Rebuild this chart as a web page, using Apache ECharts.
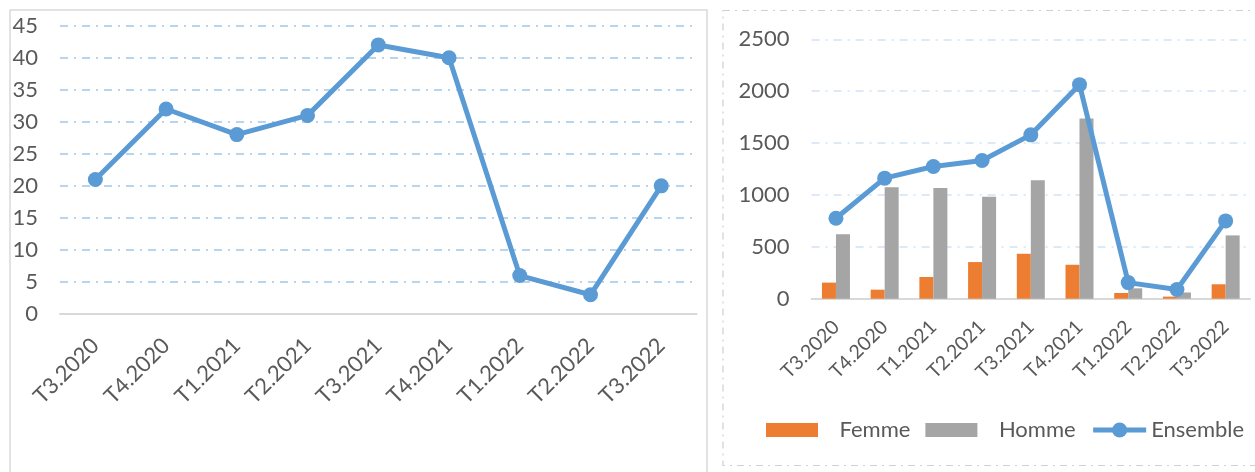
<!DOCTYPE html>
<html>
<head>
<meta charset="utf-8">
<script src="https://cdn.jsdelivr.net/npm/echarts@6/dist/echarts.min.js"></script>
<style>
  html, body { margin: 0; padding: 0; background: #fff; }
  #chart { width: 1255px; height: 472px; }
</style>
</head>
<body>
<div id="chart"></div>
<script>
// trimestres
var categories = ['T3.2020', 'T4.2020', 'T1.2021', 'T2.2021', 'T3.2021', 'T4.2021', 'T1.2022', 'T2.2022', 'T3.2022'];
// graphique de gauche
var leftValues = [21, 32, 28, 31, 42, 40, 6, 3, 20];
// graphique de droite
var femme = [155, 87, 209, 353, 433, 327, 55, 20, 139];
var homme = [620, 1075, 1066, 982, 1142, 1736, 100, 60, 610];
var ensemble = [775, 1162, 1274, 1332, 1579, 2063, 155, 88, 750];

var FONT = 'Lato';
var TXT = '#595959';
var BLUE = '#5B9BD5';
var dashDot = [8, 6, 2, 6];

var chart = echarts.init(document.getElementById('chart'));

var plain = function (v) { return String(v); };
// carré de légende 52x14 dans une case de 19px de haut
var swatch = 'path://M0,0L1,0M0,2.5H52V16.5H0ZM0,19L1,19';

var option = {
  animation: false,
  textStyle: { fontFamily: FONT },
  graphic: [
    {
      type: 'rect',
      shape: { x: 10, y: 10, width: 697, height: 520 },
      style: { fill: 'none', stroke: '#D9D9D9', lineWidth: 1.5 }
    },
    {
      type: 'rect',
      shape: { x: 723, y: 10.5, width: 600, height: 455 },
      style: { fill: 'none', stroke: '#D0D0D0', lineWidth: 1.2, lineDash: [7, 5, 2, 5] }
    }
  ],
  grid: [
    { left: 60, top: 25.7, width: 636.6, height: 288.3, outerBoundsMode: 'none' },
    { left: 811.6, top: 39.3, width: 438.4, height: 259.4, outerBoundsMode: 'none' }
  ],
  legend: {
    left: 766,
    top: 419,
    padding: 0,
    itemWidth: 53,
    itemHeight: 19,
    itemGap: 15,
    textStyle: { fontFamily: FONT, fontSize: 22, color: TXT },
    data: [
      { name: 'Femme', icon: swatch, textStyle: { padding: [0, 0, 0, 16] } },
      { name: 'Homme', icon: swatch, textStyle: { padding: [0, 0, 0, 16] } },
      { name: 'Ensemble', lineStyle: { width: 5 } }
    ]
  },
  xAxis: [
    {
      gridIndex: 0,
      type: 'category',
      data: categories,
      boundaryGap: true,
      axisLine: { lineStyle: { color: '#D9D9D9', width: 2 } },
      axisTick: { show: false },
      axisLabel: { rotate: 45, margin: 28, fontSize: 22, color: TXT, fontFamily: FONT, interval: 0 }
    },
    {
      gridIndex: 1,
      type: 'category',
      data: categories,
      boundaryGap: true,
      axisLine: { lineStyle: { color: '#D9D9D9', width: 2 } },
      axisTick: { show: false },
      axisLabel: { rotate: 45, margin: 25, fontSize: 19.5, color: TXT, fontFamily: FONT, interval: 0 }
    }
  ],
  yAxis: [
    {
      gridIndex: 0,
      type: 'value',
      min: 0,
      max: 45,
      interval: 5,
      axisLine: { show: false },
      axisTick: { show: false },
      axisLabel: { margin: 22, fontSize: 22, color: TXT, fontFamily: FONT, formatter: plain },
      splitLine: { lineStyle: { color: '#B9D4EE', width: 1.8, type: dashDot } }
    },
    {
      gridIndex: 1,
      type: 'value',
      min: 0,
      max: 2500,
      interval: 500,
      axisLine: { show: false },
      axisTick: { show: false },
      axisLabel: { margin: 22, fontSize: 22, color: TXT, fontFamily: FONT, formatter: plain },
      splitLine: { lineStyle: { color: '#DCE9F6', width: 1.8, type: dashDot } }
    }
  ],
  series: [
    {
      name: 'Gauche',
      type: 'line',
      xAxisIndex: 0,
      yAxisIndex: 0,
      data: leftValues,
      symbol: 'circle',
      symbolSize: 15,
      lineStyle: { color: BLUE, width: 5 },
      itemStyle: { color: BLUE }
    },
    {
      name: 'Femme',
      type: 'bar',
      xAxisIndex: 1,
      yAxisIndex: 1,
      data: femme,
      barWidth: 14,
      barGap: '0%',
      itemStyle: { color: '#ED7D31' }
    },
    {
      name: 'Homme',
      type: 'bar',
      xAxisIndex: 1,
      yAxisIndex: 1,
      data: homme,
      barWidth: 14,
      barGap: '0%',
      itemStyle: { color: '#A5A5A5' }
    },
    {
      name: 'Ensemble',
      type: 'line',
      xAxisIndex: 1,
      yAxisIndex: 1,
      data: ensemble,
      symbol: 'circle',
      symbolSize: 15,
      z: 5,
      lineStyle: { color: BLUE, width: 5 },
      itemStyle: { color: BLUE }
    }
  ]
};

chart.setOption(option);
</script>
</body>
</html>
